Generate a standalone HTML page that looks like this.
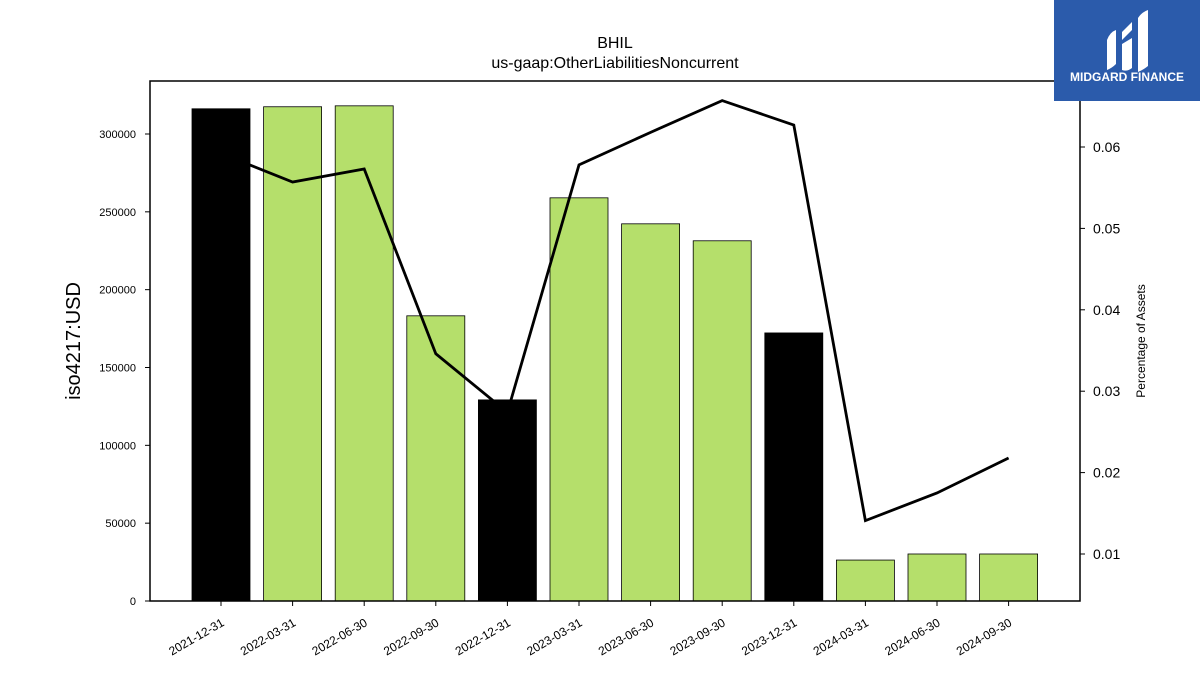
<!DOCTYPE html>
<html><head><meta charset="utf-8"><style>
body{margin:0;background:#fff;}
svg text{font-family:"Liberation Sans","DejaVu Sans",sans-serif;}
</style></head><body>
<svg id="chart" width="1200" height="675" xmlns="http://www.w3.org/2000/svg">
<rect width="1200" height="675" fill="#fff"/>
<text x="615" y="48" text-anchor="middle" font-size="16">BHIL</text>
<text x="615" y="68" text-anchor="middle" font-size="16">us-gaap:OtherLiabilitiesNoncurrent</text>
<g id="bars"></g><g id="line"></g><g id="axes"></g>
<rect x="150" y="81" width="930" height="520" fill="none" stroke="#000" stroke-width="1.5"/>
<text transform="translate(80,341) rotate(-90)" text-anchor="middle" font-size="20">iso4217:USD</text>
<text transform="translate(1145,341) rotate(-90)" text-anchor="middle" font-size="12">Percentage of Assets</text>
<g>
<rect x="1054" y="0" width="146" height="101" fill="#2b5bab"/>
<path d="M1107 40 Q1110 32 1116 30 L1116 64 Q1112 68 1107 70 Z M1122 44 L1132 38 L1132 68 Q1127 72 1122 70 Z M1138 18 Q1142 12 1148 10 L1148 66 Q1143 70 1138 72 Z M1122 32 L1132 22 L1132 30 L1122 40 Z" fill="#fff"/>
<text x="1127" y="81" text-anchor="middle" font-size="12" font-weight="bold" fill="#fff">MIDGARD FINANCE</text>
</g>
</svg>
<script>
const categories=["2021-12-31","2022-03-31","2022-06-30","2022-09-30","2022-12-31","2023-03-31","2023-06-30","2023-09-30","2023-12-31","2024-03-31","2024-06-30","2024-09-30"];
const values=[316200,317500,318100,183200,129200,259000,242300,231400,172200,26300,30200,30200];
const pctAssets=[0.0592,0.0557,0.0573,0.0346,0.0274,0.0578,0.0618,0.0657,0.0627,0.0141,0.0175,0.0218];
const leftTicks=[0,50000,100000,150000,200000,250000,300000];
const rightTicks=[0.01,0.02,0.03,0.04,0.05,0.06];
const NS="http://www.w3.org/2000/svg";
const yL=v=>601-v*(467/300000);
const yR=v=>554-(v-0.01)*8140;
const xC=i=>221+i*71.6;
function mk(tag,attrs,parent){const e=document.createElementNS(NS,tag);for(const k in attrs)e.setAttribute(k,attrs[k]);parent.appendChild(e);return e;}
const gb=document.getElementById('bars'),gl=document.getElementById('line'),ga=document.getElementById('axes');
values.forEach((v,i)=>{
 const black=categories[i].endsWith('12-31');
 const r=mk('rect',{x:xC(i)-29,y:yL(v),width:58,height:601-yL(v),fill:black?'#000':'#b5df6b',stroke:'#000','stroke-width':0.8},gb);
 
 
 mk('line',{x1:xC(i),x2:xC(i),y1:601,y2:606,stroke:'#000'},ga);
 const t=mk('text',{transform:`translate(${xC(i)+4},${625}) rotate(-30)`,'text-anchor':'end','font-size':12},ga);
 t.textContent=categories[i];
 
 
});
const pl=mk('polyline',{points:pctAssets.map((p,i)=>xC(i)+','+yR(p)).join(' '),fill:'none',stroke:'#000','stroke-width':2.8},gl);


leftTicks.forEach(v=>{
 mk('line',{x1:145,x2:150,y1:yL(v),y2:yL(v),stroke:'#000'},ga);
 const t=mk('text',{x:136,y:yL(v)+4,'text-anchor':'end','font-size':11},ga);
 t.textContent=v;
 
 
});
rightTicks.forEach(v=>{
 mk('line',{x1:1080,x2:1085,y1:yR(v),y2:yR(v),stroke:'#000'},ga);
 const t=mk('text',{x:1093,y:yR(v)+5,'font-size':14},ga);
 t.textContent=v.toFixed(2);
 
 
});
</script>
</body></html>
